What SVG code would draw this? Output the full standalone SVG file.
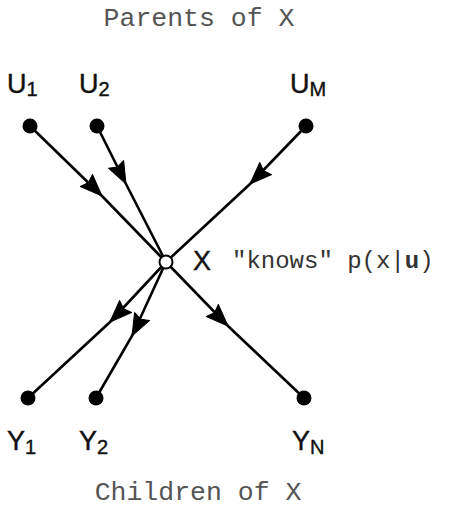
<svg xmlns="http://www.w3.org/2000/svg" width="450" height="507" viewBox="0 0 450 507">
<defs>
<marker id="ah" markerUnits="userSpaceOnUse" markerWidth="26" markerHeight="20" refX="0" refY="0" viewBox="-24 -10 26 20" orient="auto" overflow="visible">
<path d="M0,0 L-22,-8.5 L-19,0 L-22,8.5 Z" fill="#000" stroke="#000" stroke-width="1" stroke-linejoin="round"/>
</marker>
<style>
.edge{fill:none;stroke:#000;stroke-width:2.6;marker-mid:url(#ah)}
.dot{fill:#000}
.lbl{font-family:"Liberation Sans",Arial,sans-serif;font-size:27px;fill:#111;stroke:#111;stroke-width:0.4}
.sub{font-size:20px}
.mono{font-family:"Liberation Mono","Courier New",monospace;fill:#555}
</style>
</defs>
<rect width="450" height="507" fill="#fff"/>
<text class="mono" x="199" y="26" font-size="26.5" text-anchor="middle">Parents of X</text>
<text class="mono" x="198" y="500" font-size="26.5" text-anchor="middle">Children of X</text>
<g id="edges">
<path class="edge" d="M30,126 L102,196 L166,262"/>
<path class="edge" d="M97,126 L126,184 L166,262"/>
<path class="edge" d="M306,126 L250,184 L166,262"/>
<path class="edge" d="M166,262 L110,322 L28,398"/>
<path class="edge" d="M166,262 L132,336 L96,398"/>
<path class="edge" d="M166,262 L228,326 L304,398"/>
</g>
<g id="U1"><circle class="dot" cx="30" cy="126" r="7.5"/><text class="lbl" x="7" y="93">U<tspan class="sub" dy="3">1</tspan></text></g>
<g id="U2"><circle class="dot" cx="97" cy="126" r="7.5"/><text class="lbl" x="79" y="93">U<tspan class="sub" dy="3">2</tspan></text></g>
<g id="UM"><circle class="dot" cx="306" cy="126" r="7.5"/><text class="lbl" x="290" y="93">U<tspan class="sub" dy="3">M</tspan></text></g>
<g id="Y1"><circle class="dot" cx="28" cy="398" r="7.5"/><text class="lbl" x="7" y="450">Y<tspan class="sub" dy="4">1</tspan></text></g>
<g id="Y2"><circle class="dot" cx="96" cy="398" r="7.5"/><text class="lbl" x="79" y="450">Y<tspan class="sub" dy="4">2</tspan></text></g>
<g id="YN"><circle class="dot" cx="304" cy="398" r="7.5"/><text class="lbl" x="292" y="450">Y<tspan class="sub" dy="4">N</tspan></text></g>
<g id="X">
<circle cx="166" cy="262" r="6.5" fill="#fff" stroke="#000" stroke-width="2"/>
<text class="lbl" x="193" y="270">X</text>
<text font-family="Liberation Mono,'Courier New',monospace" font-size="24" fill="#333" x="232" y="268">"knows"  p(x|<tspan font-weight="bold">u</tspan>)</text>
</g>
</svg>
